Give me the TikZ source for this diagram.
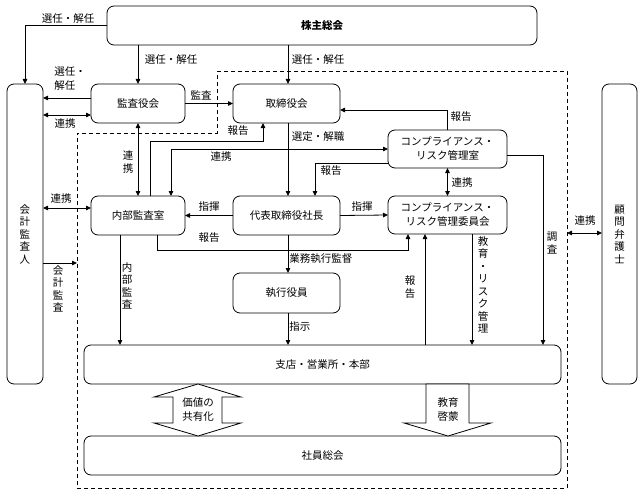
\documentclass[tikz,border=0pt]{standalone}
\usepackage{fontspec}
\setmainfont{Noto Sans CJK JP}
\usetikzlibrary{arrows.meta}
\newcommand\mysz{\fontsize{10.5}{14}\selectfont}
\newcommand\myvsz{\fontsize{10.5}{12.5}\selectfont}
\begin{document}
\begin{tikzpicture}[x=1pt,y=-1pt, line width=0.8pt,
  box/.style={draw, rounded corners=7pt, inner sep=0pt, outer sep=0pt, align=center, font=\mysz},
  arr/.style={-{Triangle[length=5pt,width=4.5pt]}},
  dbl/.style={{Triangle[length=5pt,width=4.5pt]}-{Triangle[length=5pt,width=4.5pt]}},
  lbl/.style={inner sep=0pt, font=\mysz, align=center},
  vlbl/.style={inner sep=0pt, font=\myvsz, align=center},
  barrow/.style={draw, fill=white, line width=0.8pt}]
\useasboundingbox (0,0) rectangle (640,495);

% dashed company boundary
\draw[dashed, dash pattern=on 4pt off 3pt] (217,71) -- (567,71) -- (567,488) -- (77,488) -- (77,133) -- (217,133) -- cycle;

% boxes
\node[box, minimum width=430pt, minimum height=39pt] (kabu) at (322,25.5) {\textbf{株主総会}};
\node[box, minimum width=36pt, minimum height=300pt, font=\myvsz] (kaikei) at (25,234) {会\\計\\監\\査\\人};
\node[box, minimum width=35pt, minimum height=300pt, font=\myvsz] (bengo) at (619.5,234) {顧\\問\\弁\\護\\士};
\node[box, minimum width=94pt, minimum height=39pt] (kansa) at (138,103.5) {監査役会};
\node[box, minimum width=107pt, minimum height=39pt] (tori) at (286.5,103.5) {取締役会};
\node[box, minimum width=119pt, minimum height=38pt] (crm) at (447.5,149) {コンプライアンス・\\リスク管理室};
\node[box, minimum width=119pt, minimum height=38pt] (crc) at (447.5,215) {コンプライアンス・\\リスク管理委員会};
\node[box, minimum width=94pt, minimum height=39pt] (naibu) at (138,215.5) {内部監査室};
\node[box, minimum width=107pt, minimum height=39pt] (shacho) at (286.5,215.5) {代表取締役社長};
\node[box, minimum width=107pt, minimum height=40pt] (shikko) at (286.5,293) {執行役員};
\node[box, minimum width=477pt, minimum height=39pt] (shiten) at (322.5,364.5) {支店・営業所・本部};
\node[box, minimum width=477pt, minimum height=39pt] (shain) at (322.5,455.5) {社員総会};

\coordinate (dR) at (567,233);
\coordinate (dL) at (77,263);

% connectors
\draw[arr] (kabu.west) -| (kaikei.north);
\draw[arr] (kansa.north |- kabu.south) -- (kansa.north);
\draw[arr] (kabu.south -| 288,0) -- (tori.north -| 288,0);
\draw[arr] (kansa.west |- 0,98) -- (kaikei.east |- 0,98);
\draw[dbl] (kaikei.east |- 0,115) -- (kansa.west |- 0,115);
\draw[arr] (kansa.east) -- (tori.west);
\draw[dbl] (kansa.south) -- (naibu.north);
\draw[arr] (naibu.north -| 150,0) |- (263,141) -- (tori.south -| 263,0);
\draw[dbl] (naibu.north -| 171,0) |- (crm.west);
\draw[arr] (tori.south -| 288,0) -- (shacho.north -| 288,0);
\draw[arr] (crm.west |- 0,163) -| (shacho.north -| 315,0);
\draw[arr] (crm.north) |- (tori.east |- 0,110);
\draw[dbl] (crm.south) -- (crc.north);
\draw[arr] (shacho.west) -- (naibu.east);
\draw[arr] (shacho.east) -- (crc.west);
\draw[arr] (naibu.south -| 157,0) |- (408,250) -- (crc.south -| 408,0);
\draw[arr] (shacho.south -| 288,0) -- (shikko.north -| 288,0);
\draw[arr] (shikko.south -| 288,0) -- (shiten.north -| 288,0);
\draw[arr] (naibu.south -| 120,0) -- (shiten.north -| 120,0);
\draw[arr] (shiten.north -| 425,0) -- (crc.south -| 425,0);
\draw[arr] (crc.south -| 472,0) -- (shiten.north -| 472,0);
\draw[arr] (crm.east |- 0,155) -| (shiten.north -| 543,0);
\draw[dbl] (dR) -- (bengo.west |- dR);
\draw[dbl] (kaikei.east |- 0,208) -- (naibu.west |- 0,208);
\draw[arr] (kaikei.east |- dL) -- (dL);

% block arrows
\draw[barrow] (198,384) -- (241,397) -- (222,397) -- (222,423) -- (241,423) -- (198,436)
  -- (154,423) -- (173,423) -- (173,397) -- (154,397) -- cycle;
\node[lbl] (kachi) at (198,410) {価値の\\共有化};
\draw[barrow] (426,384) -- (469,384) -- (469,423) -- (491,423) -- (448,436) -- (404,423) -- (426,423) -- cycle;
\node[lbl] (kyoiku) at (448,410) {教育\\啓蒙};

% labels
\node[lbl] at (68,19) {選任・解任};
\node[lbl] at (171,60) {選任・解任};
\node[lbl] at (318,60) {選任・解任};
\node[lbl, anchor=west, align=left] at (54,79) {選任・\\解任};
\node[lbl] at (65,124) {連携};
\node[lbl] at (201,95) {監査};
\node[vlbl] at (128,162) {連\\携};
\node[lbl] at (238,131) {報告};
\node[lbl] at (221,157) {連携};
\node[lbl] at (318,137) {選定・解職};
\node[lbl] at (331,171) {報告};
\node[lbl] at (461,117) {報告};
\node[lbl] at (462,183) {連携};
\node[lbl] at (209,207) {指揮};
\node[lbl] at (362,207) {指揮};
\node[lbl] at (209,238) {報告};
\node[lbl, anchor=west] at (289,259) {業務執行監督};
\node[lbl, anchor=west] at (289,327) {指示};
\node[vlbl] at (127,286) {内\\部\\監\\査};
\node[vlbl] at (410,287) {報\\告};
\node[vlbl] at (483,285) {教\\育\\・\\リ\\ス\\ク\\管\\理};
\node[vlbl] at (552,243) {調\\査};
\node[lbl] at (585,221) {連携};
\node[lbl] at (61,199) {連携};
\node[vlbl] at (58,289) {会\\計\\監\\査};
\end{tikzpicture}
\end{document}
